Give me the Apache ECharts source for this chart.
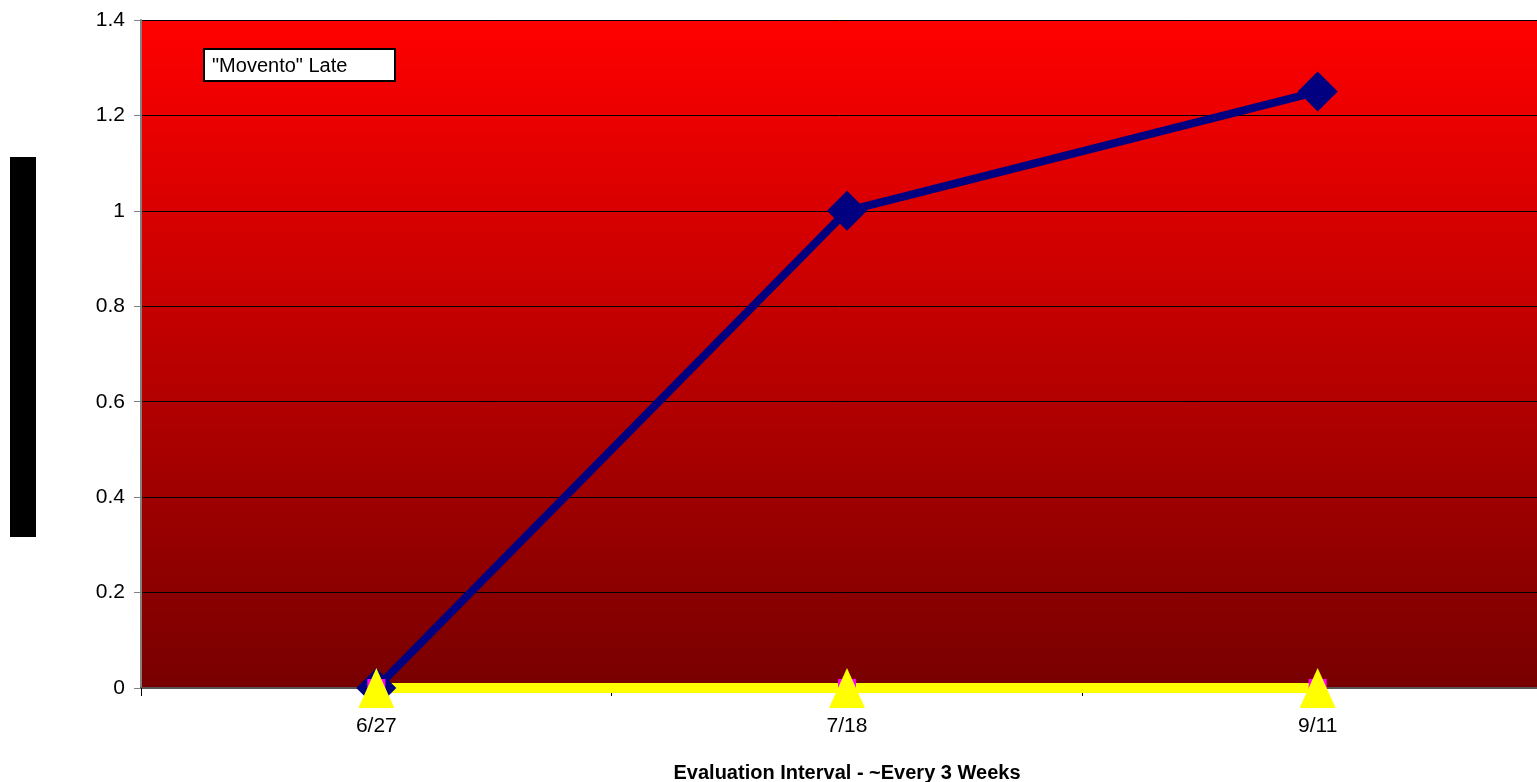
<!DOCTYPE html>
<html>
<head>
<meta charset="utf-8">
<script src="https://cdn.jsdelivr.net/npm/echarts@6/dist/echarts.min.js"></script>
<style>
	html,body{margin:0;padding:0;background:#fff;}
	#main{width:1537px;height:782px;}
</style>
</head>
<body>
<div id="main"></div>
<script type="text/javascript">
// data
var categories = ['6/27', '7/18', '9/11'];
var moventoLate = [0, 1, 1.25];
var seriesB = [0, 0, 0];
var seriesC = [0, 0, 0];
var yTicks = [0, 0.2, 0.4, 0.6, 0.8, 1, 1.2, 1.4];

var font = '"Liberation Sans", Arial, sans-serif';
var myChart = echarts.init(document.getElementById('main'));

var option = {
	animation: false,
	backgroundColor: '#fff',
	title: {
		text: '"Movento" Late',
		left: 204,
		top: 49,
		backgroundColor: '#fff',
		borderColor: '#000',
		borderWidth: 2,
		padding: [7, 48, 5, 8],
		textStyle: {fontFamily: font, fontSize: 20, fontWeight: 'normal', color: '#000'}
	},
	graphic: [
		{type: 'rect', left: 10, top: 157, shape: {width: 26, height: 380}, style: {fill: '#000'}}
	],
	grid: {
		// plot area runs past the right edge of the picture
		left: 141, right: -16, top: 20, bottom: 94,
		outerBoundsMode: 'none',
		containLabel: false,
		show: true,
		borderWidth: 0,
		backgroundColor: new echarts.graphic.LinearGradient(0, 0, 0, 1, [
			{offset: 0, color: '#ff0000'},
			{offset: 1, color: '#780000'}
		])
	},
	xAxis: {
		type: 'category',
		data: categories,
		boundaryGap: true,
		name: 'Evaluation Interval - ~Every 3 Weeks',
		nameLocation: 'middle',
		nameGap: 75,
		nameTextStyle: {fontFamily: font, fontSize: 20, fontWeight: 'bold', color: '#000'},
		axisLine: {lineStyle: {color: '#555', width: 2}},
		axisTick: {show: true, length: 8, lineStyle: {color: '#000'}},
		axisLabel: {fontFamily: font, fontSize: 21, color: '#000', margin: 28}
	},
	yAxis: {
		type: 'value',
		min: yTicks[0],
		max: yTicks[yTicks.length - 1],
		interval: 0.2,
		axisLine: {show: true, lineStyle: {color: '#808080', width: 2}},
		axisTick: {show: true, length: 7, lineStyle: {color: '#808080'}},
		axisLabel: {fontFamily: font, fontSize: 21, color: '#000', margin: 16},
		splitLine: {show: true, lineStyle: {color: '#000', width: 1}}
	},
	series: [
		{
			name: '"Movento" Late',
			type: 'line',
			data: moventoLate,
			symbol: 'diamond',
			symbolSize: [40, 40],
			lineStyle: {color: '#000080', width: 8},
			itemStyle: {color: '#000080'}
		},
		{
			name: 'Series 2',
			type: 'line',
			data: seriesB,
			symbol: 'rect',
			symbolSize: 18,
			lineStyle: {color: '#ff00ff', width: 8},
			itemStyle: {color: '#ff00ff'}
		},
		{
			name: 'Series 3',
			type: 'line',
			data: seriesC,
			symbol: 'triangle',
			symbolSize: [36, 40],
			lineStyle: {color: '#ffff00', width: 10},
			itemStyle: {color: '#ffff00'}
		}
	]
};

myChart.setOption(option);
</script>
</body>
</html>
